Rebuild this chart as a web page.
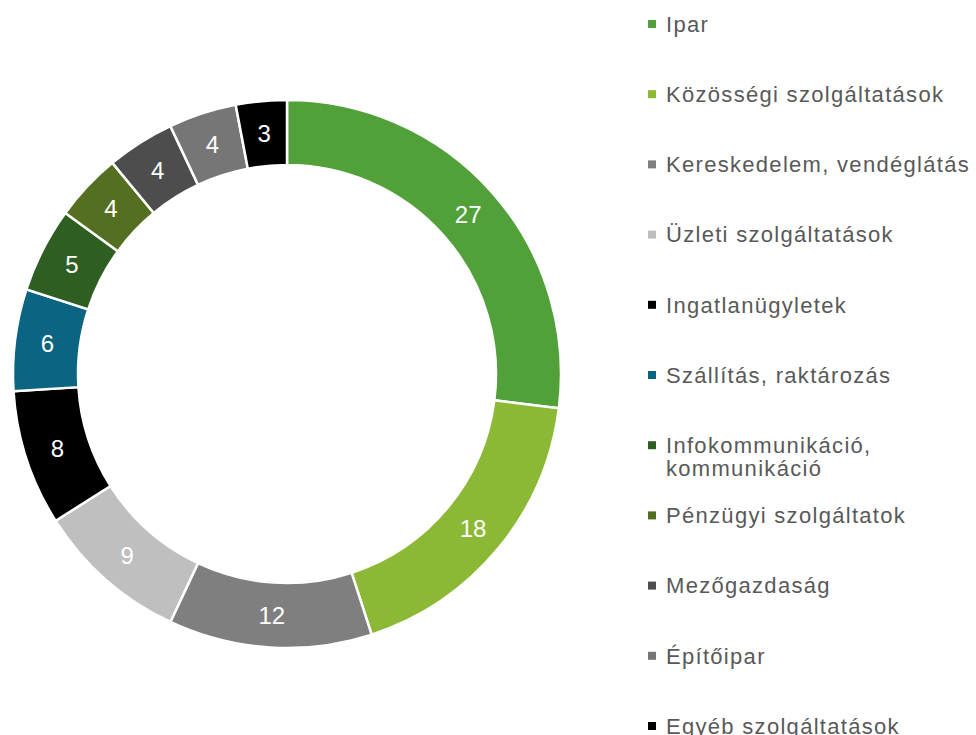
<!DOCTYPE html>
<html>
<head>
<meta charset="utf-8">
<script src="https://cdn.jsdelivr.net/npm/d3@7"></script>
<style>
  body { margin: 0; background: #fff; }
  svg { display: block; font-family: "Liberation Sans", Arial, sans-serif; }
</style>
</head>
<body>
<div id="chart"></div>
<script>
const categories = [
  "Ipar",
  "Közösségi szolgáltatások",
  "Kereskedelem, vendéglátás",
  "Üzleti szolgáltatások",
  "Ingatlanügyletek",
  "Szállítás, raktározás",
  "Infokommunikáció,\nkommunikáció",
  "Pénzügyi szolgáltatok",
  "Mezőgazdaság",
  "Építőipar",
  "Egyéb szolgáltatások"
];
const values = [27, 18, 12, 9, 8, 6, 5, 4, 4, 4, 3];
const colors = [
  "#52a03a", "#8cb935", "#7f7f7f", "#bfbfbf", "#000000", "#0b6482",
  "#2f5e23", "#556f20", "#4d4d4d", "#767676", "#000000"
];

const width = 976,
  height = 735;
const cx = 287,
  cy = 374,
  outerR = 274,
  innerR = 209;

const svg = d3
  .select("#chart")
  .append("svg")
  .attr("width", width)
  .attr("height", height);

const data = categories.map((c, i) => ({ name: c, value: values[i], color: colors[i] }));

const pie = d3
  .pie()
  .value(d => d.value)
  .sort(null);

const arc = d3
  .arc()
  .innerRadius(innerR)
  .outerRadius(outerR);

const ring = svg.append("g").attr("transform", `translate(${cx}, ${cy})`);

const slices = pie(data);

ring
  .selectAll("path")
  .data(slices)
  .enter()
  .append("path")
  .attr("d", arc)
  .attr("fill", d => d.data.color)
  .attr("stroke", "#fff")
  .attr("stroke-width", 2.5);

ring
  .selectAll("text")
  .data(slices)
  .enter()
  .append("text")
  .attr("transform", d => `translate(${arc.centroid(d)})`)
  .attr("text-anchor", "middle")
  .attr("dy", "0.36em")
  .attr("fill", "#fff")
  .attr("font-size", "24px")
  .text(d => d.data.value);

// legend
const legendY = d3
  .scalePoint()
  .domain(categories)
  .range([24, 726]);

const legend = svg
  .append("g")
  .selectAll("g")
  .data(data)
  .enter()
  .append("g")
  .attr("transform", d => `translate(648, ${legendY(d.name)})`);

legend
  .append("rect")
  .attr("x", 0)
  .attr("y", -4)
  .attr("width", 8)
  .attr("height", 8)
  .attr("fill", d => d.color);

legend
  .append("text")
  .attr("x", 18)
  .attr("y", 0)
  .attr("fill", "#595959")
  .attr("font-size", "22px")
  .attr("letter-spacing", "1.3px")
  .selectAll("tspan")
  .data(d => d.name.split("\n"))
  .enter()
  .append("tspan")
  .attr("x", 18)
  .attr("dy", (d, i) => (i === 0 ? "0.35em" : "1.05em"))
  .text(d => d);
</script>
</body>
</html>
